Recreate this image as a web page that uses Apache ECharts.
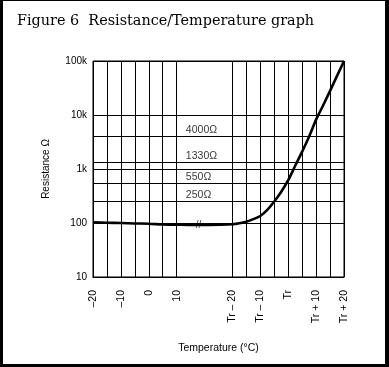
<!DOCTYPE html>
<html><head><meta charset="utf-8">
<script src="https://cdn.jsdelivr.net/npm/echarts/dist/echarts.min.js"></script>
<style>html,body{margin:0;padding:0;background:#fff}#c{width:389px;height:367px}</style>
</head><body><div id="c"></div>
<script>
// x uses a compressed "virtual" temperature scale: -20..10 real °C, 30..70 = Tr-20..Tr+20
const xTickValues = [-20, -10, 0, 10, 30, 40, 50, 60, 70];
const xTickLabels = ['–20', '–10', '0', '10', 'Tr – 20', 'Tr – 10', 'Tr', 'Tr + 10', 'Tr + 20'];
const xGridValues = [-20, -15, -10, -5, 0, 5, 10, 30, 35, 40, 45, 50, 55, 60, 65, 70];
const yTickValues = [10, 100, 1000, 10000, 100000];
const yTickLabels = ['10', '100', '1k', '10k', '100k'];
const refLines = [4000, 1330, 550, 250];
const curveX = [-20, -15, -10, -5, 0, 5, 10, 15, 20, 25, 30, 32.5, 35, 37.5, 40, 42.5, 45, 47.5, 50, 52.5, 55, 57.5, 60, 62.5, 65, 67.5, 70];
const curveR = [103, 101, 100, 98, 97, 94, 93, 92, 92, 93, 95, 99, 106, 118, 135, 175, 250, 380, 620, 1150, 2100, 4000, 8200, 15000, 28000, 53000, 100000];
const breakMark = [17.8, 91];

const LABEL_X = 13.3;
const chart = echarts.init(document.getElementById('c'), null, {renderer: 'canvas'});
const black = '#000';
chart.setOption({
  animation: false,
  textStyle: {fontFamily: 'Liberation Sans', color: black},
  title: {
    text: 'Figure 6  Resistance/Temperature graph',
    left: 12, top: 9,
    textStyle: {fontFamily: 'DejaVu Serif', fontSize: 14.4, fontWeight: 'normal', color: black}
  },
  graphic: [
    {type: 'rect', shape: {x: 0, y: 0, width: 3, height: 367}, style: {fill: black}},
    {type: 'rect', shape: {x: 0, y: 0, width: 389, height: 1}, style: {fill: black}},
    {type: 'rect', shape: {x: 385, y: 0, width: 4, height: 367}, style: {fill: black}},
    {type: 'rect', shape: {x: 0, y: 364, width: 389, height: 3}, style: {fill: black}}
  ],
  grid: {left: 93, top: 61, right: 45, bottom: 90, show: true, borderColor: black, borderWidth: 1},
  xAxis: {
    type: 'value', min: -20, max: 70, interval: 10,
    name: 'Temperature (°C)', nameLocation: 'middle', nameGap: 66,
    nameTextStyle: {fontSize: 10.5, color: black},
    axisLine: {show: true, lineStyle: {color: black}},
    axisTick: {show: false},
    splitLine: {show: false},
    axisLabel: {
      rotate: 90, margin: 13, fontSize: 10.5, color: black,
      formatter: v => { const i = xTickValues.indexOf(v); return i >= 0 ? xTickLabels[i] : ''; }
    }
  },
  yAxis: {
    type: 'log', logBase: 10, min: 10, max: 100000,
    name: 'Resistance Ω', nameLocation: 'middle', nameGap: 42,
    nameTextStyle: {fontSize: 10, color: black},
    axisLine: {show: true, lineStyle: {color: black}},
    axisTick: {show: false},
    splitLine: {show: true, lineStyle: {color: black, width: 1}},
    axisLabel: {
      fontSize: 10, color: black, margin: 6,
      formatter: v => { const i = yTickValues.findIndex(t => Math.abs(t - v) / t < 1e-6); return i >= 0 ? yTickLabels[i] : ''; }
    }
  },
  series: [
    {
      type: 'line',
      data: curveX.map((x, i) => [x, curveR[i]]),
      showSymbol: false, smooth: 0.3,
      lineStyle: {color: black, width: 2.6},
      z: 5,
      markLine: {
        silent: true, symbol: 'none', animation: false,
        label: {show: false},
        lineStyle: {color: black, width: 1, type: 'solid'},
        data: xGridValues.map(v => ({xAxis: v})).concat(refLines.map(v => ({yAxis: v})))
      }
    },
    {
      type: 'scatter', symbolSize: 0, silent: true, z: 6,
      data: refLines.map(v => [LABEL_X, v]),
      label: {show: true, position: 'right', distance: 0, offset: [0, -6], fontSize: 10.5, color: black,
        formatter: p => p.value[1] + 'Ω'}
    },
    {
      type: 'scatter', symbolSize: 0, silent: true, z: 6,
      data: [breakMark],
      label: {show: true, position: 'inside', fontSize: 10, color: black, formatter: '//'}
    }
  ]
});
</script></body></html>
